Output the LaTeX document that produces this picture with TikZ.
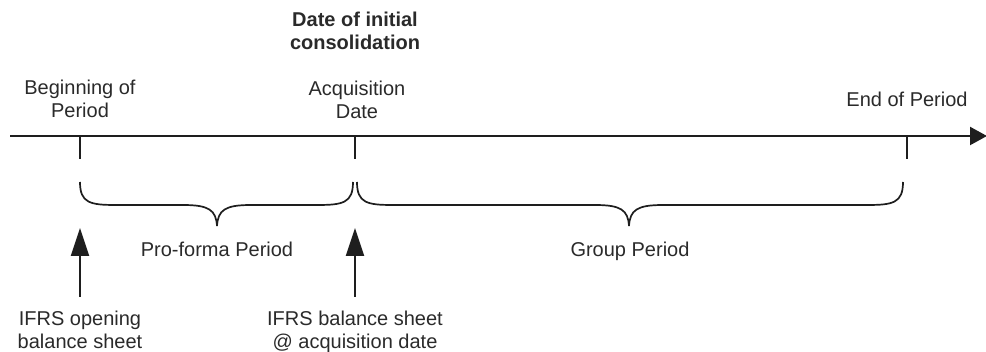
\documentclass[tikz,border=0pt]{standalone}
\usepackage{fontspec}
\setmainfont{Liberation Sans}
\usetikzlibrary{arrows.meta}
\definecolor{ink}{HTML}{1E1E1E}
\definecolor{txt}{HTML}{2A2A2A}
\tikzset{
  lbl/.style={inner sep=0pt, align=center, text=txt, font=\fontsize{20}{23}\selectfont},
  title/.style={lbl, font=\fontsize{20}{23}\selectfont\bfseries},
  axis/.style={draw=ink, line width=2.2pt, -{Triangle[length=17pt,width=18pt]}},
  tick/.style={draw=ink, line width=1.8pt},
  brace/.style={draw=ink, line width=1.7pt},
  pointer/.style={draw=ink, line width=2pt, -{Triangle[length=28pt,width=18pt]}}
}
% a horizontal curly brace opening upward, tip pointing down
\newcommand{\hbrace}[4]{% left x, right x, tip x, name
  \draw[brace] (#1,182) .. controls (#1,203) and (#1+10,205) .. (#1+36,205)
    -- (#3-34,205) .. controls (#3-8,205) and (#3-1,210) .. (#3,226)
    .. controls (#3+1,210) and (#3+8,205) .. (#3+34,205)
    -- (#2-36,205) .. controls (#2-10,205) and (#2,203) .. (#2,182);
  \coordinate (#4) at (#3,226);
}
\begin{document}
\begin{tikzpicture}[x=1pt,y=-1pt]
  \useasboundingbox (0,0) rectangle (986,352);

  % time axis
  \coordinate (axisL) at (10,136);
  \coordinate (axisR) at (987,136);
  \draw[axis] (axisL) -- (axisR);

  % ticks on the axis
  \coordinate (t1) at (80,136);   \coordinate (t1b) at (80,159);
  \coordinate (t2) at (355,136);  \coordinate (t2b) at (355,159);
  \coordinate (t3) at (907,136);  \coordinate (t3b) at (907,159);
  \draw[tick] (t1) -- (t1b);
  \draw[tick] (t2) -- (t2b);
  \draw[tick] (t3) -- (t3b);

  % labels above the axis
  \node[title] (cons) at (355,31.2) {Date of initial\\consolidation};
  \node[lbl] (bop) at (80,99.2) {Beginning of\\Period};
  \node[lbl] (acq) at (357,99.4) {Acquisition\\Date};
  \node[lbl, anchor=base] (eop) at (907,106.5) {End of Period};

  % braces under the axis
  \hbrace{80}{353}{217}{b1}
  \hbrace{357}{903}{629}{b2}
  \node[lbl, anchor=base] (pf) at (217,257) {Pro-forma Period};
  \node[lbl, anchor=base] (gp) at (630,257) {Group Period};

  % balance sheet labels and their pointers
  \node[lbl] (ifrs1) at (80,329.5) {IFRS opening\\balance sheet};
  \node[lbl] (ifrs2) at (355,331.5) {IFRS balance sheet\\@ acquisition date};
  \coordinate (p1s) at (80,297);  \coordinate (p1t) at (80,228);
  \coordinate (p2s) at (355,297); \coordinate (p2t) at (355,228);
  \draw[pointer] (p1s) -- (p1t);
  \draw[pointer] (p2s) -- (p2t);
\end{tikzpicture}
\end{document}
